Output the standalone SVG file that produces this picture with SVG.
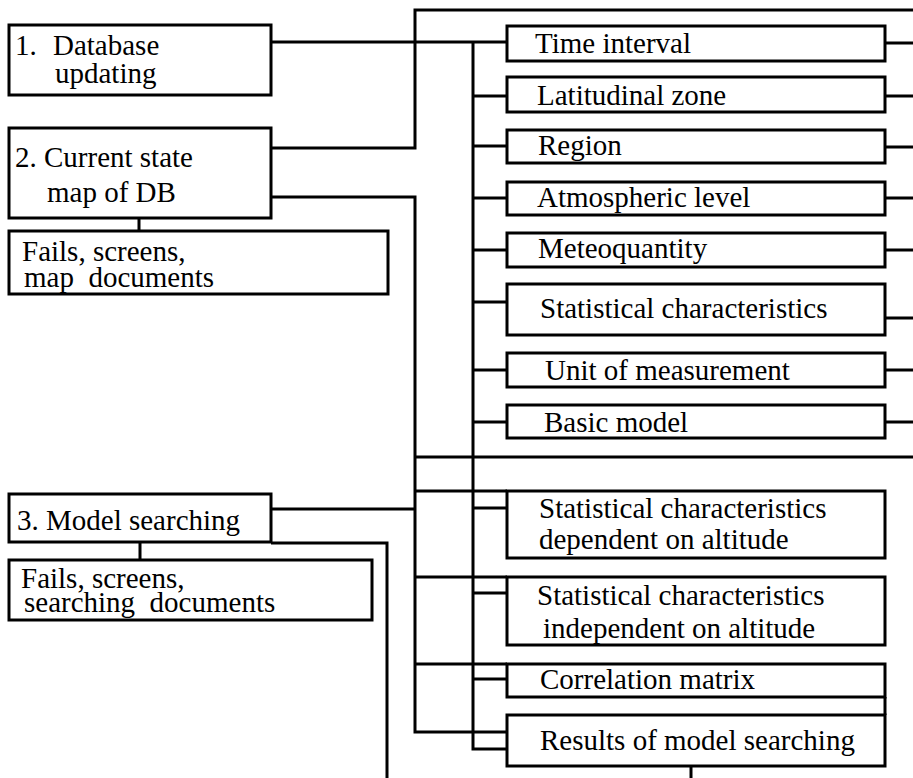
<svg xmlns="http://www.w3.org/2000/svg" width="913" height="778" viewBox="0 0 913 778">
<style>
.box{fill:#fff;stroke:#000;stroke-width:3}
.ln{fill:none;stroke:#000;stroke-width:3;stroke-linejoin:miter}
text{font-family:"Liberation Serif","Times New Roman",serif;font-size:29px;fill:#000}
</style>
<rect width="913" height="778" fill="#fff"/>
<g id="connectors" class="ln">
<path d="M271 42H507"/>
<path d="M271 148H415V10H913"/>
<path d="M271 197H415V732H507"/>
<path d="M473 42V749H507"/>
<path d="M473 96H507M473 146H507M473 198H507M473 250H507M473 302H507M473 370H507M473 422H507M473 508H507M473 593H507M473 679H507"/>
<path d="M415 457H913"/>
<path d="M415 491H507M415 577H507M415 664H507"/>
<path d="M271 509H415"/>
<path d="M271 543H387V778"/>
<path d="M885 43H913M885 96H913M885 147H913M885 198H913M885 250H913M885 318H913M885 370H913M885 422H913"/>
<path d="M885 697V715"/>
<path d="M691 766V778"/>
<path d="M139 218V231M140 542V560"/>
</g>
<g id="n1"><rect class="box" x="9" y="25" width="262" height="70"/><text x="15" y="55">1.</text><text x="53" y="55">Database</text><text x="55" y="83">updating</text></g>
<g id="n2"><rect class="box" x="9" y="128" width="262" height="90"/><text x="15" y="167">2. Current state</text><text x="47" y="202">map of DB</text></g>
<g id="n2doc"><rect class="box" x="9" y="231" width="379" height="63"/><text x="22" y="261">Fails, screens,</text><text x="24" y="287" xml:space="preserve">map  documents</text></g>
<g id="n3"><rect class="box" x="9" y="494" width="262" height="48"/><text x="17" y="530">3. Model searching</text></g>
<g id="n3doc"><rect class="box" x="9" y="560" width="363" height="60"/><text x="21" y="588">Fails, screens,</text><text x="24" y="612" xml:space="preserve">searching  documents</text></g>
<g id="time"><rect class="box" x="507" y="26" width="378" height="35"/><text x="535" y="53">Time interval</text></g>
<g id="lat"><rect class="box" x="507" y="77" width="378" height="35"/><text x="537" y="105">Latitudinal zone</text></g>
<g id="region"><rect class="box" x="507" y="130" width="378" height="33"/><text x="538" y="155">Region</text></g>
<g id="atm"><rect class="box" x="507" y="182" width="378" height="33"/><text x="537" y="207">Atmospheric level</text></g>
<g id="meteo"><rect class="box" x="507" y="233" width="378" height="34"/><text x="538" y="258">Meteoquantity</text></g>
<g id="stat"><rect class="box" x="507" y="284" width="378" height="51"/><text x="540" y="318">Statistical characteristics</text></g>
<g id="unit"><rect class="box" x="507" y="353" width="378" height="34"/><text x="545" y="380">Unit of measurement</text></g>
<g id="basic"><rect class="box" x="507" y="405" width="378" height="33"/><text x="544" y="432">Basic model</text></g>
<g id="statdep"><rect class="box" x="507" y="491" width="378" height="67"/><text x="539" y="518">Statistical characteristics</text><text x="539" y="549">dependent on altitude</text></g>
<g id="statindep"><rect class="box" x="507" y="577" width="378" height="68"/><text x="537" y="605">Statistical characteristics</text><text x="543" y="638">independent on altitude</text></g>
<g id="corr"><rect class="box" x="507" y="664" width="378" height="33"/><text x="540" y="689">Correlation matrix</text></g>
<g id="results"><rect class="box" x="507" y="715" width="378" height="51"/><text x="540" y="750">Results of model searching</text></g>
</svg>
